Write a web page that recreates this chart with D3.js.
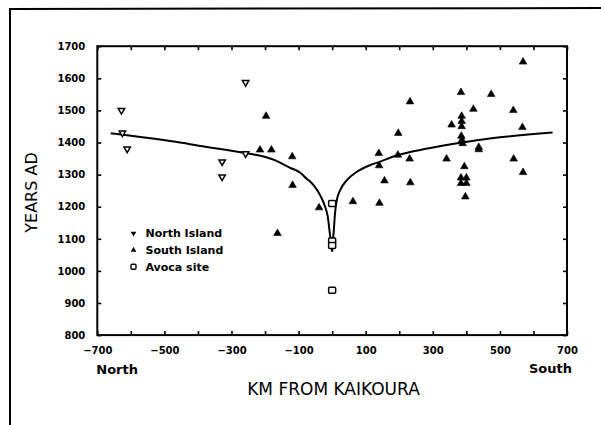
<!DOCTYPE html>
<html>
<head>
<meta charset="utf-8">
<script src="https://cdn.jsdelivr.net/npm/d3@7"></script>
<style>
  html, body { margin: 0; padding: 0; background: #fff; }
  svg { display: block; }
</style>
</head>
<body>
<svg id="chart" width="601" height="425"></svg>
<script>
// Radiocarbon ages (years AD) against distance (km) from Kaikoura.
const northIsland = [
  [-628, 1500], [-625, 1430], [-611, 1380],
  [-258, 1587], [-258, 1365], [-328, 1340], [-328, 1293]
];
const southIsland = [
  [-215, 1377], [-197, 1482], [-181, 1377], [-119, 1356], [-118, 1267],
  [-163, 1117], [-39, 1197], [62, 1216], [139, 1366], [140, 1328],
  [141, 1211], [156, 1281], [196, 1361], [197, 1429], [232, 1527],
  [231, 1349], [233, 1275], [341, 1349], [356, 1455], [384, 1556],
  [386, 1482], [386, 1466], [386, 1450], [385, 1420], [387, 1408],
  [389, 1397], [394, 1325], [384, 1290], [400, 1290], [384, 1273],
  [400, 1273], [397, 1231], [421, 1504], [437, 1385], [437, 1378],
  [474, 1550], [540, 1500], [541, 1349], [569, 1651], [567, 1447],
  [569, 1307]
];
const avocaSite = [[0, 1210], [0, 1093], [0, 1079], [0, 940]];

// Fitted trend, drawn as two branches meeting at the Avoca cusp.
const fitNorth = [
  [-660, 1429], [-466, 1402], [-392, 1389], [-258, 1367], [-199, 1355],
  [-173, 1346], [-125, 1321], [-95, 1306], [-75, 1286], [-65, 1278],
  [-36, 1236], [-21, 1200], [-13, 1169], [-7, 1117], [0, 1060]
];
const fitSouth = [
  [0, 1060], [5, 1127], [8.5, 1179], [14, 1221], [24, 1252], [44, 1283],
  [74, 1309], [114, 1330], [139, 1339], [196, 1361], [284, 1381],
  [383, 1399], [475, 1413], [657, 1431]
];

const xTickValues = d3.range(-700, 701, 100);
const xTickLabels = [-700, -500, -300, -100, 100, 300, 500, 700];
const yTickValues = d3.range(800, 1701, 100);
const legendItems = ["North Island", "South Island", "Avoca site"];

const svg = d3.select("#chart");
const tickFont = "'DejaVu Sans', sans-serif";

svg.append("rect").attr("width", 601).attr("height", 425).attr("fill", "#fff");

// page border (top and left edges)
svg.append("path")
  .attr("d", "M10,425 L10,9 L601,8")
  .attr("fill", "none").attr("stroke", "#000").attr("stroke-width", 2);

const plotLeft = 97.3, plotRight = 567, plotTop = 46.2, plotBottom = 335.1;
const x = d3.scaleLinear().domain([-700, 700]).range([plotLeft, plotRight]);
const y = d3.scaleLinear().domain([800, 1700]).range([plotBottom, plotTop]);

function styleAxis(g) {
  g.select(".domain").remove();
  g.selectAll(".tick line").attr("stroke", "#000").attr("stroke-width", 1.6);
  g.selectAll("text")
    .attr("font-family", tickFont)
    .attr("font-weight", "bold")
    .attr("font-size", 10)
    .attr("fill", "#000");
}

const fmt = d3.format("d");

svg.append("g")
  .attr("transform", `translate(${plotLeft},0)`)
  .call(d3.axisLeft(y).tickValues(yTickValues).tickFormat(fmt)
    .tickSizeInner(-4).tickSizeOuter(0).tickPadding(12))
  .call(styleAxis);

svg.append("g")
  .attr("transform", `translate(${plotRight},0)`)
  .call(d3.axisRight(y).tickValues(yTickValues).tickSizeInner(-4).tickSizeOuter(0).tickFormat(""))
  .call(styleAxis);

svg.append("g")
  .attr("transform", `translate(0,${plotBottom})`)
  .call(d3.axisBottom(x).tickValues(xTickValues).tickSizeInner(-4).tickSizeOuter(0).tickPadding(12)
    .tickFormat(v => xTickLabels.includes(v) ? fmt(v) : ""))
  .call(styleAxis);

svg.append("g")
  .attr("transform", `translate(0,${plotTop})`)
  .call(d3.axisTop(x).tickValues(xTickValues).tickSizeInner(-4).tickSizeOuter(0).tickFormat(""))
  .call(styleAxis);

// plot frame
svg.append("rect")
  .attr("x", plotLeft).attr("y", plotTop)
  .attr("width", plotRight - plotLeft).attr("height", plotBottom - plotTop)
  .attr("fill", "none").attr("stroke", "#000").attr("stroke-width", 2);

// trend curve
const line = d3.line().x(d => x(d[0])).y(d => y(d[1])).curve(d3.curveMonotoneX);
[fitNorth, fitSouth].forEach(branch => {
  svg.append("path")
    .attr("d", line(branch))
    .attr("fill", "none").attr("stroke", "#000").attr("stroke-width", 2)
    .attr("stroke-linejoin", "round");
});

const tri = d3.symbol(d3.symbolTriangle, 25)();
const triOpen = d3.symbol(d3.symbolTriangle, 18)();

svg.append("g").selectAll("path")
  .data(northIsland).join("path")
  .attr("d", triOpen)
  .attr("transform", d => `translate(${x(d[0])},${y(d[1])}) rotate(180)`)
  .attr("fill", "#fff").attr("stroke", "#000").attr("stroke-width", 1.5);

svg.append("g").selectAll("path")
  .data(southIsland).join("path")
  .attr("d", tri)
  .attr("transform", d => `translate(${x(d[0])},${y(d[1])})`)
  .attr("fill", "#000").attr("stroke", "#000").attr("stroke-width", 0.6)
  .attr("stroke-linejoin", "round");

svg.append("g").selectAll("rect")
  .data(avocaSite).join("rect")
  .attr("x", d => x(d[0]) - 3.5).attr("y", d => y(d[1]) - 3)
  .attr("width", 7).attr("height", 6).attr("rx", 1)
  .attr("fill", "#fff").attr("stroke", "#000").attr("stroke-width", 1.5);

// legend
const legend = svg.append("g").attr("transform", "translate(133.5,233.3)");
legendItems.forEach((name, i) => {
  const g = legend.append("g").attr("transform", `translate(0,${i * 16.7})`);
  if (i === 0) {
    g.append("path").attr("d", d3.symbol(d3.symbolTriangle, 14)())
      .attr("transform", "rotate(180)").attr("fill", "#000");
  } else if (i === 1) {
    g.append("path").attr("d", d3.symbol(d3.symbolTriangle, 14)()).attr("fill", "#000");
  } else {
    g.append("rect").attr("x", -2.5).attr("y", -2.5).attr("width", 5).attr("height", 5).attr("rx", 1.2)
      .attr("fill", "#fff").attr("stroke", "#000").attr("stroke-width", 1.4);
  }
  g.append("text")
    .attr("x", 12).attr("y", 3.8)
    .attr("font-family", tickFont).attr("font-weight", "bold").attr("font-size", 11)
    .text(name);
});

// axis titles
svg.append("text")
  .attr("x", plotLeft - 1).attr("y", 374)
  .attr("font-family", tickFont).attr("font-weight", "bold").attr("font-size", 13)
  .text("North");
svg.append("text")
  .attr("x", 572).attr("y", 373).attr("text-anchor", "end")
  .attr("font-family", tickFont).attr("font-weight", "bold").attr("font-size", 13)
  .text("South");

svg.append("text")
  .attr("x", 333.5).attr("y", 395).attr("text-anchor", "middle")
  .attr("font-family", tickFont).attr("font-size", 17)
  .text("KM FROM KAIKOURA");

svg.append("text")
  .attr("transform", "translate(36.5,192.5) rotate(-90)")
  .attr("text-anchor", "middle")
  .attr("font-family", tickFont).attr("font-size", 16)
  .text("YEARS AD");
</script>
</body>
</html>
